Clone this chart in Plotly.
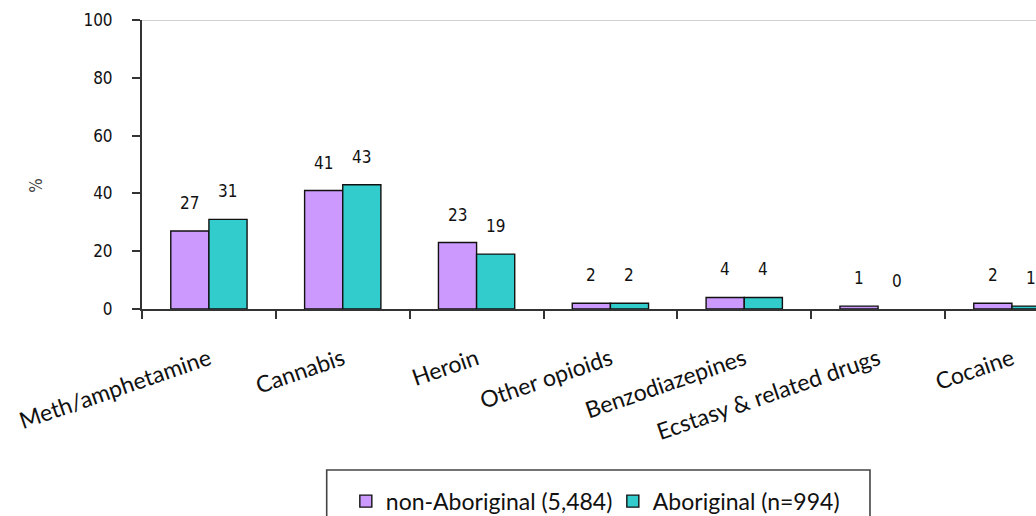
import plotly.graph_objects as go

# Drug categories and percentages for the two groups
drugs = [
    "Meth/amphetamine", "Cannabis", "Heroin", "Other opioids",
    "Benzodiazepines", "Ecstasy & related drugs", "Cocaine",
]
non_aboriginal = [27, 41, 23, 2, 4, 1, 2]
aboriginal = [31, 43, 19, 2, 4, 0, 1]

series_names = ["non-Aboriginal (5,484)", "Aboriginal (n=994)"]
y_ticks = [0, 20, 40, 60, 80, 100]

PURPLE = "#CC99FF"
TEAL = "#33CCCC"
AXIS = "#333333"
NUM_FONT = "DejaVu Sans Condensed, Liberation Sans, sans-serif"
TXT_FONT = "Lato, Open Sans, sans-serif"

fig = go.Figure()
for name, vals, col in [(series_names[0], non_aboriginal, PURPLE),
                        (series_names[1], aboriginal, TEAL)]:
    # no outline on empty (zero) bars
    widths = [1.4 if v > 0 else 0 for v in vals]
    fig.add_trace(go.Bar(
        x=drugs, y=vals, name=name,
        marker=dict(color=col, line=dict(color="#111111", width=widths)),
    ))

# Value labels above each bar
annotations = []
for vals, shift in [(non_aboriginal, -19), (aboriginal, 19)]:
    for d, v in zip(drugs, vals):
        annotations.append(dict(
            x=d, y=v, xref="x", yref="y", text=str(v), showarrow=False,
            xshift=shift, yshift=28, yanchor="middle",
            font=dict(family=NUM_FONT, size=17, color="#111111"),
        ))

# Axis title
annotations.append(dict(
    x=-0.1186, y=43, xref="paper", yref="y", text="%", showarrow=False,
    xanchor="center", yanchor="middle",
    textangle=-90, font=dict(family=NUM_FONT, size=17, color="#444444"),
))

fig.update_layout(
    width=1036, height=516, autosize=False,
    margin=dict(l=142, r=0, t=20, b=207, autoexpand=False),
    paper_bgcolor="white", plot_bgcolor="white",
    barmode="group", bargap=0.43, bargroupgap=0,
    showlegend=True,
    legend=dict(
        orientation="h", x=0.228, y=-0.665, xanchor="left", yanchor="middle",
        font=dict(family=TXT_FONT, size=23, color="#111111"),
        bgcolor="rgba(0,0,0,0)", entrywidth=222, entrywidthmode="pixels",
    ),
    annotations=annotations,
    shapes=[
        # light line along the top of the plot area
        dict(type="line", xref="paper", yref="y", x0=0, x1=1, y0=100, y1=100,
             line=dict(color="#d0d0d0", width=2)),
        # legend frame
        dict(type="rect", xref="paper", yref="paper",
             x0=0.2066, x1=0.8143, y0=-0.557, y1=-0.80,
             line=dict(color="#444444", width=1.6), fillcolor="rgba(0,0,0,0)"),
    ],
)

fig.update_xaxes(
    type="category", categoryorder="array", categoryarray=drugs,
    range=[-0.5, 6.18],
    showline=True, linecolor=AXIS, linewidth=2,
    ticks="outside", tickson="boundaries", ticklen=8, tickwidth=1.5, tickcolor=AXIS,
    tickangle=-19, ticklabelstandoff=26,
    tickfont=dict(family=TXT_FONT, size=23, color="#111111"),
    showgrid=False, zeroline=False,
)
fig.update_yaxes(
    range=[0, 100], tickvals=y_ticks,
    showline=True, linecolor=AXIS, linewidth=2,
    ticks="outside", ticklen=8, tickwidth=1.5, tickcolor=AXIS,
    ticklabelstandoff=16,
    tickfont=dict(family=NUM_FONT, size=17, color="#111111"),
    showgrid=False, zeroline=False,
)

fig.write_html("out.html")
